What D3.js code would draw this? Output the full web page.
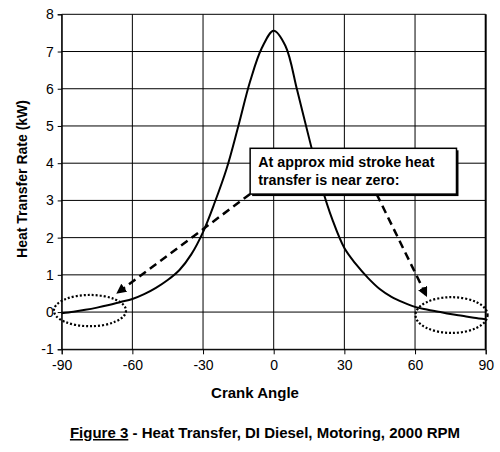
<!DOCTYPE html>
<html>
<head>
<meta charset="utf-8">
<script src="https://cdn.jsdelivr.net/npm/d3@7"></script>
<style>
  body { margin: 0; background: #fff; }
  text { font-family: "Liberation Sans", Arial, sans-serif; }
</style>
</head>
<body>
<svg id="chart" width="500" height="452"></svg>
<script>
// Crank angle (deg) and heat transfer rate (kW)
const angles = [-90, -85, -80, -75, -70, -65, -60, -55, -50, -45, -40, -35, -30, -25, -20, -15, -10, -5,
    0, 5, 10, 15, 20, 25, 30, 35, 40, 45, 50, 55, 60, 65, 70, 75, 80, 85, 90];
const heatRate = [-0.03, 0.01, 0.06, 0.12, 0.19, 0.27, 0.35, 0.48, 0.65, 0.86, 1.13, 1.55, 2.15, 2.95, 3.85, 5.0, 6.2, 7.1,
    7.56, 7.15, 5.95, 4.68, 3.45, 2.47, 1.72, 1.28, 0.92, 0.62, 0.41, 0.26, 0.14, 0.07, 0.01, -0.05, -0.1, -0.15, -0.19];
const xTicks = [-90, -60, -30, 0, 30, 60, 90];
const yTicks = [-1, 0, 1, 2, 3, 4, 5, 6, 7, 8];

// Annotation (data units)
const noteLines = ["At approx mid stroke heat", "transfer is near zero:"];
const noteBox = { x0: -10, x1: 77.6, y0: 4.4, y1: 3.17 };
const arrows = [
    { from: [-10, 3.17], to: [-66.5, 0.51] },
    { from: [43.7, 3.17], to: [64.9, 0.43] }
];
const ellipses = [
    { cx: -78, cy: 0.04, rx: 15.3, ry: 0.42 },
    { cx: 75.5, cy: -0.08, rx: 15.3, ry: 0.48 }
];

const svg = d3.select("#chart");
const x = d3.scaleLinear().domain([-90, 90]).range([61.7, 485.7]);
const y = d3.scaleLinear().domain([-1, 8]).range([349.3, 14.3]);

// Grid lines
svg.append("g")
    .selectAll("line.h")
    .data(yTicks)
    .enter().append("line")
    .attr("x1", x(-90)).attr("x2", x(90))
    .attr("y1", d => y(d)).attr("y2", d => y(d))
    .attr("stroke", "#000").attr("stroke-width", 1);

svg.append("g")
    .selectAll("line.v")
    .data(xTicks)
    .enter().append("line")
    .attr("x1", d => x(d)).attr("x2", d => x(d))
    .attr("y1", y(-1)).attr("y2", y(8))
    .attr("stroke", "#000").attr("stroke-width", d => d === 90 ? 2 : 1);

// Axes (plain hyphen for negatives, like the original)
const xAxis = svg.append("g")
    .attr("transform", `translate(0,${y(-1)})`)
    .call(d3.axisBottom(x).tickValues(xTicks).tickSize(5).tickPadding(6).tickFormat(d => String(d)));
const yAxis = svg.append("g")
    .attr("transform", `translate(${x(-90)},0)`)
    .call(d3.axisLeft(y).tickValues(yTicks).tickSize(4).tickPadding(4).tickFormat(d => String(d)));

[xAxis, yAxis].forEach(g => {
    g.select(".domain").attr("stroke", "#000");
    g.selectAll(".tick line").attr("stroke", "#000");
    g.selectAll("text")
        .attr("fill", "#000")
        .style("font-family", "'Liberation Sans', Arial, sans-serif")
        .style("font-size", "14px");
});

// Curve
const line = d3.line()
    .x((d, i) => x(angles[i]))
    .y(d => y(d))
    .curve(d3.curveCatmullRom.alpha(0.5));

svg.append("path")
    .datum(heatRate)
    .attr("fill", "none")
    .attr("stroke", "#000")
    .attr("stroke-width", 2)
    .attr("d", line);

// Dotted ellipses
svg.selectAll("ellipse")
    .data(ellipses)
    .enter().append("ellipse")
    .attr("cx", d => x(d.cx))
    .attr("cy", d => y(d.cy))
    .attr("rx", d => x(d.rx) - x(0))
    .attr("ry", d => y(0) - y(d.ry))
    .attr("fill", "none")
    .attr("stroke", "#000")
    .attr("stroke-width", 2.2)
    .attr("stroke-dasharray", "2,2");

// Arrow head
svg.append("defs").append("marker")
    .attr("id", "head")
    .attr("viewBox", "0 0 10 10")
    .attr("refX", 9).attr("refY", 5)
    .attr("markerWidth", 4).attr("markerHeight", 4)
    .attr("orient", "auto")
    .append("path")
    .attr("d", "M0,0 L10,5 L0,10 z")
    .attr("fill", "#000");

svg.selectAll("line.arrow")
    .data(arrows)
    .enter().append("line")
    .attr("class", "arrow")
    .attr("x1", d => x(d.from[0])).attr("y1", d => y(d.from[1]))
    .attr("x2", d => x(d.to[0])).attr("y2", d => y(d.to[1]))
    .attr("stroke", "#000")
    .attr("stroke-width", 2.5)
    .attr("stroke-dasharray", "8,5")
    .attr("marker-end", "url(#head)");

// Annotation box with shadow
const bx = x(noteBox.x0), by = y(noteBox.y0);
const bw = x(noteBox.x1) - bx, bh = y(noteBox.y1) - by;
svg.append("rect")
    .attr("x", bx + 2).attr("y", by + 2)
    .attr("width", bw).attr("height", bh)
    .attr("fill", "#000");
svg.append("rect")
    .attr("x", bx).attr("y", by)
    .attr("width", bw).attr("height", bh)
    .attr("fill", "#fff")
    .attr("stroke", "#000")
    .attr("stroke-width", 1.5);

svg.append("g")
    .selectAll("text")
    .data(noteLines)
    .enter().append("text")
    .attr("x", bx + 8)
    .attr("y", (d, i) => by + 19 + i * 18)
    .style("font-size", "14.3px")
    .style("font-weight", "bold")
    .text(d => d);

// Axis titles
svg.append("text")
    .attr("transform", "translate(27,179) rotate(-90)")
    .attr("text-anchor", "middle")
    .style("font-size", "14px")
    .style("font-weight", "bold")
    .text("Heat Transfer Rate (kW)");

svg.append("text")
    .attr("x", 255)
    .attr("y", 398)
    .attr("text-anchor", "middle")
    .style("font-size", "15px")
    .style("font-weight", "bold")
    .text("Crank Angle");

// Caption
const caption = svg.append("text")
    .attr("x", 265)
    .attr("y", 438)
    .attr("text-anchor", "middle")
    .style("font-size", "15px")
    .style("font-weight", "bold");
caption.append("tspan").attr("text-decoration", "underline").text("Figure 3");
caption.append("tspan").text(" - Heat Transfer, DI Diesel, Motoring, 2000 RPM");
</script>
</body>
</html>
